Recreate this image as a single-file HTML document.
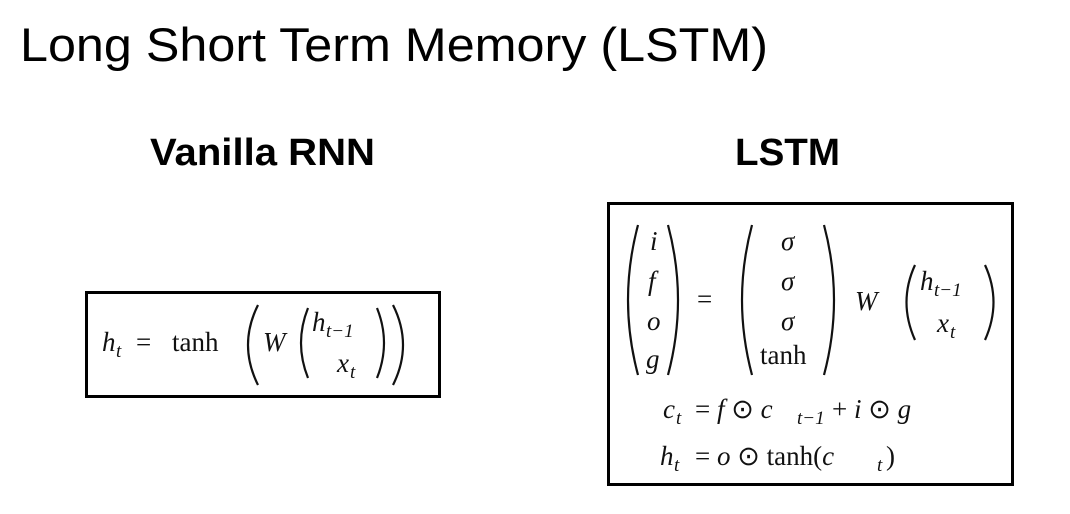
<!DOCTYPE html>
<html><head><meta charset="utf-8"><style>
html,body{margin:0;padding:0;background:#fff;width:1070px;height:514px;overflow:hidden}
svg{display:block}
.t{font-family:"Liberation Sans",sans-serif}
.m{font-family:"Liberation Serif",serif;font-size:27px;fill:#111}
.i{font-style:italic}
.s{font-size:19px}
</style></head><body>
<svg width="1070" height="514" viewBox="0 0 1070 514">
<text class="t" x="20" y="61" font-size="47" textLength="748" lengthAdjust="spacingAndGlyphs">Long Short Term Memory (LSTM)</text>
<text class="t" x="150" y="165" font-size="38" font-weight="bold" textLength="225" lengthAdjust="spacingAndGlyphs">Vanilla RNN</text>
<text class="t" x="735" y="165" font-size="38" font-weight="bold" textLength="105" lengthAdjust="spacingAndGlyphs">LSTM</text>

<rect x="86.5" y="292.5" width="353" height="104" fill="none" stroke="#000" stroke-width="3"/>
<rect x="608.5" y="203.5" width="404" height="281" fill="none" stroke="#000" stroke-width="3"/>

<g fill="none" stroke="#111" stroke-width="2.2">
<!-- left eq parens -->
<path d="M258 305 Q238 345 258 385"/>
<path d="M308 308 Q294 343 308 378"/>
<path d="M377 308 Q391 343 377 378"/>
<path d="M393 305 Q413 345 393 385"/>
<!-- right parens -->
<path d="M638 225 Q618 300 638 375"/>
<path d="M668 225 Q688 300 668 375"/>
<path d="M752 225 Q732 300 752 375"/>
<path d="M824 225 Q844 300 824 375"/>
<path d="M915 265 Q898 302 915 340"/>
<path d="M985 265 Q1002 302 985 340"/>
</g>

<text class="m i" x="102" y="351">h</text><text class="m i s" x="116" y="357">t</text>
<text class="m" x="136" y="351">=</text>
<text class="m" x="172" y="351">tanh</text>
<text class="m i" x="263" y="351">W</text>
<text class="m i" x="312" y="331">h</text><text class="m i s" x="326" y="337">t−1</text>
<text class="m i" x="337" y="372">x</text><text class="m i s" x="350" y="378">t</text>

<text class="m i" x="650" y="250">i</text>
<text class="m i" x="648" y="290">f</text>
<text class="m i" x="647" y="330">o</text>
<text class="m i" x="646" y="368">g</text>
<text class="m" x="697" y="308">=</text>
<text class="m i" x="781" y="250">σ</text>
<text class="m i" x="781" y="290">σ</text>
<text class="m i" x="781" y="330">σ</text>
<text class="m" x="760" y="364">tanh</text>
<text class="m i" x="855" y="310">W</text>
<text class="m i" x="920" y="290">h</text><text class="m i s" x="934" y="296">t−1</text>
<text class="m i" x="937" y="332">x</text><text class="m i s" x="950" y="338">t</text>

<text class="m i" x="663" y="418">c</text><text class="m i s" x="676" y="424">t</text>
<text class="m" x="695" y="418">= <tspan font-style="italic">f</tspan> ⊙ <tspan font-style="italic">c</tspan></text>
<text class="m i s" x="797" y="424">t−1</text>
<text class="m" x="832" y="418">+ <tspan font-style="italic">i</tspan> ⊙ <tspan font-style="italic">g</tspan></text>

<text class="m i" x="660" y="465">h</text><text class="m i s" x="674" y="471">t</text>
<text class="m" x="695" y="465">= <tspan font-style="italic">o</tspan> ⊙ tanh(<tspan font-style="italic">c</tspan></text>
<text class="m i s" x="877" y="471">t</text>
<text class="m" x="886" y="465">)</text>
</svg>
</body></html>
